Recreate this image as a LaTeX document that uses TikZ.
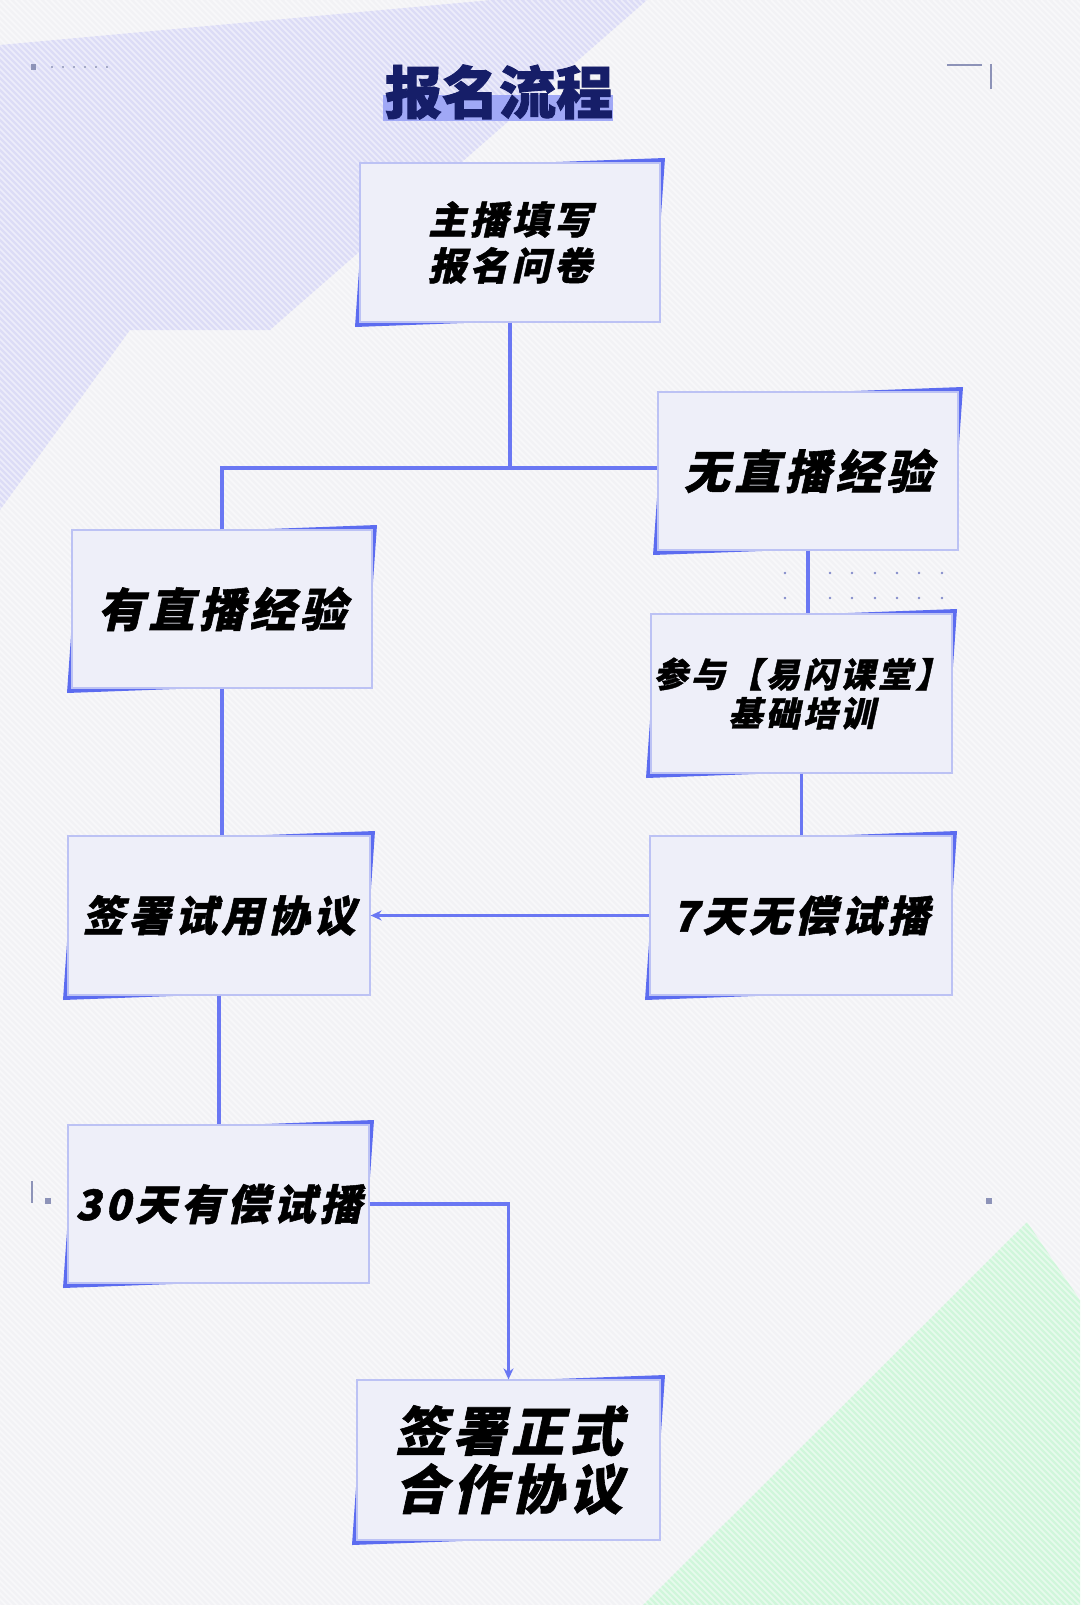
\documentclass[tikz,border=0pt]{standalone}
\usepackage{fontspec}
\usetikzlibrary{arrows.meta}
\newfontfamily\cjk[FakeSlant=0.22,LetterSpace=10,FakeBold=1.2]{Noto Sans CJK SC}
\newfontfamily\cjkup[FakeBold=1.5]{Noto Sans CJK SC}
\definecolor{bgc}{HTML}{F2F2F5}
\definecolor{lav}{HTML}{DCDCF6}
\definecolor{mint}{HTML}{D0F6DB}
\definecolor{boxfill}{HTML}{EEEFF9}
\definecolor{boxline}{HTML}{BCC2F4}
\definecolor{accent}{HTML}{5C6CF0}
\definecolor{conn}{HTML}{6A77F3}
\definecolor{navy}{HTML}{161E68}
\definecolor{hl}{HTML}{A0A8F6}
\definecolor{deco}{HTML}{8D93B8}
\tikzset{
  flowbox/.style={draw=boxline, line width=1.2pt, fill=boxfill, inner sep=0pt, align=center, text=black},
  connline/.style={draw=conn, line width=3.4pt},
  accentfill/.style={fill=accent},
}
\newcommand\flowbox[8]{% name, W, N, E, S, fontsize, leading, text
  \fill[accentfill] (#2+6,#3+6) -- (#4+5,#3-5) -- (#4-6,#5-6) -- (#2-5,#5+5) -- cycle;
  \node[flowbox, minimum width={#4-#2}, minimum height={#5-#3},
        font={\cjk\bfseries\fontsize{#6pt}{#7pt}\selectfont}]
        (#1) at ({(#2+#4)/2},{(#3+#5)/2}) {#8};
}
\begin{document}
\begin{tikzpicture}[x=1pt,y=-1pt]
\useasboundingbox (0,0) rectangle (1080,1605);
\fill[bgc] (0,0) rectangle (1080,1605);
% background shapes
\fill[lav] (0,45) -- (491,0) -- (647,0) -- (270,330) -- (130,330) -- (0,510) -- cycle;
\fill[mint] (1027,1222) -- (1080,1300) -- (1080,1605) -- (643,1605) -- cycle;
% stripes
\begin{scope}
\clip (0,0) rectangle (1080,1605);
\foreach \i in {-1605,-1599,...,1080}
  \draw[white, line width=1.6pt, opacity=0.5] (\i,0) -- (\i+1605,1605);
\end{scope}
% decorations
\fill[deco] (31,64) rectangle (36,70);
\foreach \x in {52,63,74,85,96,107} \fill[deco!80] (\x-1.2,65.8) rectangle (\x+1.2,68.2);
\draw[deco, line width=1.6pt] (947,65) -- (982,65);
\draw[deco, line width=1.6pt] (991,64) -- (991,89);
\draw[deco, line width=1.6pt] (32,1181) -- (32,1203);
\fill[deco] (45,1198) rectangle (51,1204);
\fill[deco] (986,1198) rectangle (992,1204);
\foreach \y in {573,598} {
  \fill[deco!70!conn] (785,\y) circle (1.4);
  \foreach \x in {830,852,875,897,919,942} \fill[deco!70!conn] (\x,\y) circle (1.4);
}
% title
\fill[hl] (383,95) rectangle (613,121);
\node[text=navy, font={\cjkup\bfseries\fontsize{57pt}{60pt}\selectfont}, inner sep=0pt] (title) at (499,92) {报名流程};
% boxes
\flowbox{b1}{360}{163}{660}{322}{38}{46}{主播填写\\报名问卷}
\flowbox{b2}{658}{392}{958}{550}{46}{52}{无直播经验}
\flowbox{b3}{72}{530}{372}{688}{46}{52}{有直播经验}
\flowbox{b4}{651}{614}{952}{773}{34}{39}{参与【易闪课堂】\\基础培训}
\flowbox{b5}{650}{836}{952}{995}{42}{48}{7天无偿试播}
\flowbox{b6}{68}{836}{370}{995}{42}{48}{签署试用协议}
\flowbox{b7}{68}{1125}{369}{1283}{42}{48}{30天有偿试播}
\flowbox{b8}{357}{1380}{660}{1540}{53}{58}{签署正式\\合作协议}
% connectors
\coordinate (split) at (510,468);
\draw[connline] (b1.south) -- (split);
\draw[connline] (b3.north) |- (split) -- (split -| b2.west);
\draw[connline] (b2.south) -- (b2.south |- b4.north);
\draw[connline] (b4.south) -- (b4.south |- b5.north);
\draw[connline] (b3.south) -- (b3.south |- b6.north);
\draw[connline] (b6.south) -- (b6.south |- b7.north);
\draw[connline, -{Stealth[length=11pt,width=10pt]}] (b5.west) -- (b6.east);
\draw[connline, -{Stealth[length=11pt,width=10pt]}] (b7.east) -| (b8.north);
\end{tikzpicture}
\end{document}
